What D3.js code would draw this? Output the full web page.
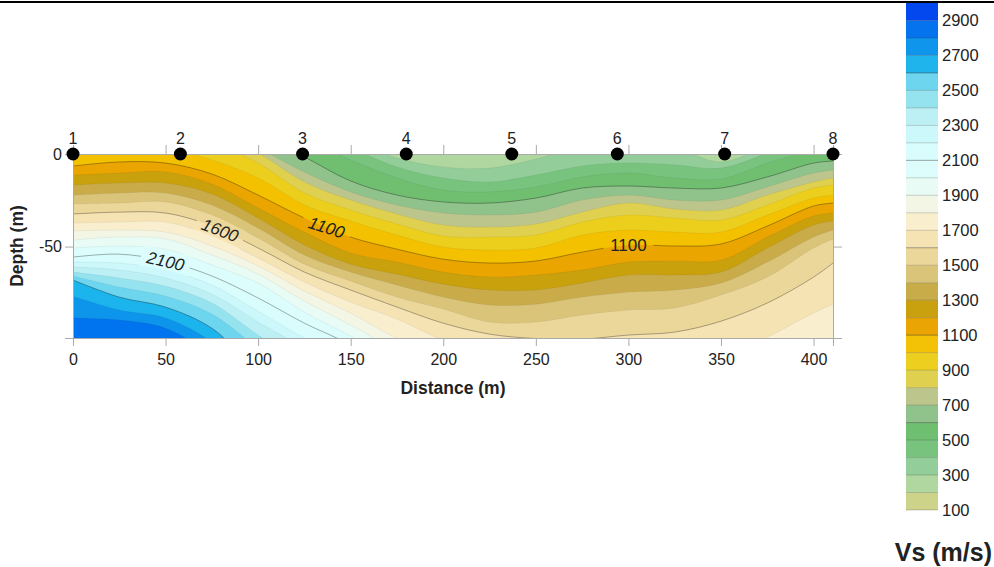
<!doctype html>
<html>

<head>
    <meta charset="utf-8">
    <title>Vs section</title>
    <script src="https://cdn.jsdelivr.net/npm/d3@7"></script>
    <style>
        html,
        body {
            margin: 0;
            padding: 0;
            background: #fff;
        }

        svg {
            display: block;
        }

        text {
            font-family: "Liberation Sans", Arial, sans-serif;
            fill: #222;
        }

        .axis path,
        .axis line {
            stroke: #aaa;
        }
    </style>
</head>

<body>
    <div id="chart"></div>

    <script>
        var distances = [0, 25, 50, 75, 100, 125, 150, 175, 200, 225, 250, 275, 300, 325, 350, 375, 400, 410.5]

        // contour depths (m) per column; negative or > 99 means the contour is outside the section there
        var depth300 = [-40, -42.7, -42.7, -37.3, -29.2, -18.4, -7.6, 2.2, 7, 7.6, 2.7, -4.3, -4.3, -3.2, 4.3, -4.9, -15.7, -18.4]
        var depth400 = [-34.6, -37.3, -37.3, -31.9, -21.1, -13, -3.2, 7, 13, 15.1, 11.4, 6.5, 4.9, 5.9, 7.6, -0.5, -10.3, -13]
        var depth500 = [-29.2, -31.9, -31.9, -26.5, -15.7, -7.6, 3.2, 13, 19.5, 20.5, 17.8, 12.4, 10.3, 13, 13.5, 4.9, -2.2, -4.3]
        var depth600 = [-23.8, -26.5, -26.5, -21.1, -10.3, 1.6, 14.6, 22.2, 25.9, 26.5, 23.8, 18.4, 17.3, 18.4, 18.4, 12.4, 4.9, 3.8]
        var depth700 = [-18.4, -21.1, -21.1, -15.7, -3.2, 9.7, 20.5, 27.6, 31.9, 33, 31.4, 24.9, 22.2, 24.9, 24.9, 17.8, 10.3, 8.6]
        var depth800 = [-13, -15.7, -15.7, -11.9, -0.5, 15.1, 24.9, 32.4, 38.4, 39.5, 37.8, 31.4, 26.5, 29.7, 30.3, 22.2, 15.1, 13]
        var depth900 = [-7.6, -10.3, -10.3, -5.9, 4.9, 21.1, 30.3, 37.8, 44.3, 44.9, 43.8, 36.8, 33, 34.6, 35.7, 27.6, 18.4, 16.8]
        var depth1000 = [-1.1, -3.2, -3.2, 3.2, 13, 27.6, 36.2, 43.8, 50.3, 51.9, 50.8, 43.8, 41.1, 42.2, 42.2, 33, 23.8, 22.2]
        var depth1100 = [6.5, 4.3, 4.9, 10.8, 22.2, 34.6, 44.9, 51.4, 56.8, 58.9, 57.8, 53, 49.2, 49.7, 48.6, 38.9, 28.1, 26.5]
        var depth1200 = [11.4, 10.3, 9.7, 16.2, 29.2, 42.2, 53.5, 58.4, 63.8, 66.5, 65.4, 62.7, 58.4, 57.8, 57.3, 44.9, 33.5, 31.9]
        var depth1300 = [16.8, 15.7, 15.7, 21.6, 34.6, 49.2, 59.5, 64.9, 70.3, 73.5, 73.5, 69.7, 65.4, 65.4, 63.8, 50.8, 38.4, 36.2]
        var depth1400 = [22.2, 21.1, 21.1, 27.6, 40, 54.6, 63.8, 70.8, 77.3, 81.6, 81.1, 77.3, 74.6, 73.5, 69.7, 58.4, 44.9, 41.1]
        var depth1500 = [27, 26.5, 25.9, 33, 45.4, 59.5, 68.6, 77.3, 83.8, 90.8, 90.8, 87, 84.3, 83.2, 76.2, 66.5, 50.8, 45.9]
        var depth1600 = [32.4, 31.4, 31.9, 38.9, 50.8, 63.8, 73.5, 82.7, 91.4, 97.3, 99.7, 100, 97.8, 96.2, 90.3, 80.5, 66.5, 58.9]
        var depth1700 = [37.3, 36.8, 36.8, 44.3, 56.2, 69.2, 80, 89.2, 100.5, 107, 111.4, 114, 115.7, 114, 109.2, 98.9, 85.9, 81.1]
        var depth1800 = [41.6, 41.1, 42.2, 49.7, 60.5, 74.1, 85.9, 99.5, 107, 118, 124, 127, 127, 127, 124, 118, 106, 103.2]
        var depth1900 = [46.5, 44.9, 45.9, 54.6, 64.9, 79.5, 92.4, 105.9, 114, 130]
        var depth2000 = [50.8, 49.7, 51.4, 60, 69.7, 85.4, 98.4, 112.4, 121, 130]
        var depth2100 = [55.7, 54.1, 57.8, 65.9, 77.8, 91.4, 103.2, 119.5, 130]
        var depth2200 = [58.4, 58.9, 62.7, 70.8, 84.9, 99.5, 111.4, 130]
        var depth2300 = [61.1, 62.7, 67, 75.7, 90.8, 105.9, 130]
        var depth2400 = [63.8, 67, 71.4, 80.5, 97.8, 114, 130]
        var depth2500 = [65.9, 71.9, 76.8, 86.5, 104.9, 122, 130]
        var depth2600 = [68.1, 77.3, 82.7, 94.1, 116.8, 130]
        var depth2700 = [76.8, 84.3, 88.6, 101.6, 124.9]
        var depth2800 = [88.6, 89.7, 94.1, 108.6, 130]

        var contourLevels = [300, 400, 500, 600, 700, 800, 900, 1000, 1100, 1200, 1300, 1400, 1500, 1600, 1700,
            1800, 1900, 2000, 2100, 2200, 2300, 2400, 2500, 2600, 2700, 2800]
        var contourDepths = [depth300, depth400, depth500, depth600, depth700, depth800, depth900, depth1000,
            depth1100, depth1200, depth1300, depth1400, depth1500, depth1600, depth1700, depth1800, depth1900,
            depth2000, depth2100, depth2200, depth2300, depth2400, depth2500, depth2600, depth2700, depth2800]
        var majorLevels = [600, 1100, 1600, 2100, 2600]

        // colour bar, from the 100-200 band up to 2900-3000
        var bandBottoms = [100, 200, 300, 400, 500, 600, 700, 800, 900, 1000, 1100, 1200, 1300, 1400, 1500,
            1600, 1700, 1800, 1900, 2000, 2100, 2200, 2300, 2400, 2500, 2600, 2700, 2800, 2900]
        var bandColors = ["#cdd388", "#b1d7a0", "#93cd9a", "#78c47f", "#6fbf70", "#90c28c", "#bcc68c", "#dfd04f",
            "#eccf1f", "#f3c105", "#eaa504", "#c9a10f", "#c9ac4a", "#d9c47a", "#ecd79b", "#f6e3b4", "#f9eecd",
            "#f3f6e5", "#e9fbf5", "#dcfdfb", "#d9fdfc", "#ccf8fb", "#bdf0f4", "#95e3ef", "#6dd5ee", "#1fb4ec",
            "#0f95ec", "#0573ee", "#0348ef"]
        var barTicks = [100, 300, 500, 700, 900, 1100, 1300, 1500, 1700, 1900, 2100, 2300, 2500, 2700, 2900]

        var xTicks = [0, 50, 100, 150, 200, 250, 300, 350, 400]
        var depthTicks = [0, 50]

        // receivers along the surface
        var stationNames = ["1", "2", "3", "4", "5", "6", "7", "8"]
        var stationDistances = [0, 58, 124, 180, 237, 294, 352, 410.5]

        var width = 994, height = 567
        var plot = { left: 73, right: 833, top: 154, bottom: 338 }

        var svg = d3.select("#chart").append("svg")
            .attr("width", width)
            .attr("height", height)

        var x = d3.scaleLinear().domain([0, 410.5]).range([plot.left, plot.right])
        var y = d3.scaleLinear().domain([0, 99.4]).range([plot.top, plot.bottom])
        var bar = d3.scaleLinear().domain([100, 3000]).range([510, 3])

        function colorOf(level) {
            return bandColors[bandBottoms.indexOf(level)]
        }

        var defs = svg.append("defs")
        defs.append("clipPath").attr("id", "section")
            .append("rect")
            .attr("x", plot.left).attr("y", plot.top)
            .attr("width", plot.right - plot.left).attr("height", plot.bottom - plot.top)

        defs.append("filter").attr("id", "soft")
            .attr("x", 0).attr("y", 0).attr("width", 1).attr("height", 1)
            .append("feGaussianBlur").attr("stdDeviation", 0.5)

        // contour labels break the lines, see the mask below
        var contourLabels = [
            { text: "1600", level: 1600, d: 79.5, angle: 21, italic: true },
            { text: "2100", level: 2100, d: 50, angle: 13, italic: true },
            { text: "1100", level: 1100, d: 137, angle: 18, italic: true },
            { text: "1100", level: 1100, d: 300, angle: 0, italic: false }
        ]

        var curve = d3.curveCatmullRom.alpha(0.5)

        function depthAt(level, d) {
            var row = contourDepths[contourLevels.indexOf(level)]
            var i = d3.bisectRight(distances, d) - 1
            var t = (d - distances[i]) / (distances[i + 1] - distances[i])
            return row[i] + t * (row[i + 1] - row[i])
        }

        var mask = defs.append("mask").attr("id", "label-gaps")
            .attr("maskUnits", "userSpaceOnUse")
            .attr("x", 0).attr("y", 0).attr("width", width).attr("height", height)
        mask.append("rect").attr("width", width).attr("height", height).attr("fill", "#fff")
        mask.selectAll(".gap")
            .data(contourLabels)
            .join("rect")
            .attr("x", -25).attr("y", -11).attr("width", 50).attr("height", 22)
            .attr("fill", "#000")
            .attr("transform", function (l) {
                return "translate(" + x(l.d) + "," + y(depthAt(l.level, l.d)) + ") rotate(" + l.angle + ")"
            })

        var section = svg.append("g").attr("clip-path", "url(#section)")
        var fills = section.append("g").attr("filter", "url(#soft)")

        fills.append("rect")
            .attr("x", plot.left).attr("y", plot.top)
            .attr("width", plot.right - plot.left).attr("height", plot.bottom - plot.top)
            .attr("fill", colorOf(200))

        var area = d3.area()
            .x(function (v, i) { return x(distances[i]) })
            .y0(y(140))
            .y1(function (v) { return y(v) })
            .curve(curve)

        // painted shallow to deep, each band covers everything below its top contour
        contourLevels.forEach(function (level, k) {
            fills.append("path")
                .attr("d", area(contourDepths[k]))
                .attr("fill", colorOf(level))
        })

        var line = d3.line()
            .x(function (v, i) { return x(distances[i]) })
            .y(function (v) { return y(v) })
            .curve(curve)

        var lines = section.append("g").attr("mask", "url(#label-gaps)").attr("fill", "none")
        contourLevels.forEach(function (level, k) {
            var major = majorLevels.indexOf(level) >= 0
            lines.append("path")
                .attr("d", line(contourDepths[k]))
                .attr("stroke", "#000")
                .attr("stroke-width", major ? 0.7 : 0.5)
                .attr("stroke-opacity", major ? 0.45 : 0.1)
        })

        svg.selectAll(".contour-label")
            .data(contourLabels)
            .join("text")
            .attr("class", "contour-label")
            .attr("text-anchor", "middle")
            .attr("dy", "0.36em")
            .attr("font-size", 17)
            .attr("font-style", function (l) { return l.italic ? "italic" : "normal" })
            .attr("transform", function (l) {
                return "translate(" + x(l.d) + "," + y(depthAt(l.level, l.d)) + ") rotate(" + l.angle + ")"
            })
            .text(function (l) { return l.text })

        // axes, labelled on the bottom and left only
        var yFormat = function (d) { return d === 0 ? "0" : "-" + d }

        svg.append("g").attr("class", "axis")
            .attr("transform", "translate(0," + plot.bottom + ")")
            .call(d3.axisBottom(x).tickValues(xTicks).tickSize(8).tickPadding(8))
        svg.append("g").attr("class", "axis")
            .attr("transform", "translate(0," + plot.top + ")")
            .call(d3.axisTop(x).tickValues(xTicks).tickSize(9).tickFormat(""))
        svg.append("g").attr("class", "axis")
            .attr("transform", "translate(" + plot.left + ",0)")
            .call(d3.axisLeft(y).tickValues(depthTicks).tickSize(8).tickPadding(3).tickFormat(yFormat))
        svg.append("g").attr("class", "axis")
            .attr("transform", "translate(" + plot.right + ",0)")
            .call(d3.axisRight(y).tickValues(depthTicks).tickSize(9).tickFormat(""))

        svg.selectAll(".axis text").attr("font-size", 16).attr("font-family", "Liberation Sans").attr("fill", "#222")
        svg.selectAll(".axis .domain").attr("stroke", "#aaa")

        svg.append("text")
            .attr("x", 453).attr("y", 394)
            .attr("text-anchor", "middle")
            .attr("font-size", 17.5).attr("font-weight", "bold")
            .text("Distance (m)")

        svg.append("text")
            .attr("transform", "translate(23,246) rotate(-90)")
            .attr("text-anchor", "middle")
            .attr("font-size", 17.5).attr("font-weight", "bold")
            .text("Depth (m)")

        // receivers
        svg.selectAll(".station")
            .data(stationDistances)
            .join("circle")
            .attr("class", "station")
            .attr("cx", function (d) { return x(d) })
            .attr("cy", y(0))
            .attr("r", 6.5)
            .attr("fill", "#000")

        svg.selectAll(".station-name")
            .data(stationDistances)
            .join("text")
            .attr("class", "station-name")
            .attr("x", function (d) { return x(d) })
            .attr("y", 144)
            .attr("text-anchor", "middle")
            .attr("font-size", 16)
            .text(function (d, i) { return stationNames[i] })

        // rule across the top of the page
        svg.append("line")
            .attr("x1", 0).attr("x2", width).attr("y1", 2).attr("y2", 2)
            .attr("stroke", "#000").attr("stroke-width", 2)

        // colour bar
        var barX = 906, barW = 32
        var legend = svg.append("g")

        legend.selectAll("rect")
            .data(bandBottoms)
            .join("rect")
            .attr("x", barX)
            .attr("y", function (b) { return bar(b + 100) })
            .attr("width", barW)
            .attr("height", function (b) { return bar(b) - bar(b + 100) })
            .attr("fill", function (b, i) { return bandColors[i] })

        legend.selectAll("line")
            .data(bandBottoms)
            .join("line")
            .attr("x1", barX).attr("x2", barX + barW)
            .attr("y1", function (b) { return bar(b) })
            .attr("y2", function (b) { return bar(b) })
            .attr("stroke", "#000")
            .attr("stroke-opacity", function (b) { return majorLevels.indexOf(b) >= 0 ? 0.35 : 0.18 })

        var barAxis = legend.append("g")
            .attr("transform", "translate(" + (barX + barW) + ",0)")
            .call(d3.axisRight(bar).tickValues(barTicks).tickSize(0).tickPadding(4).tickFormat(d3.format("d")))
        barAxis.select(".domain").remove()
        barAxis.selectAll("text").attr("font-size", 16.5).attr("font-family", "Liberation Sans").attr("fill", "#222")

        svg.append("text")
            .attr("x", 992).attr("y", 561)
            .attr("text-anchor", "end")
            .attr("font-size", 25).attr("font-weight", "bold")
            .text("Vs (m/s)")
    </script>
</body>

</html>
